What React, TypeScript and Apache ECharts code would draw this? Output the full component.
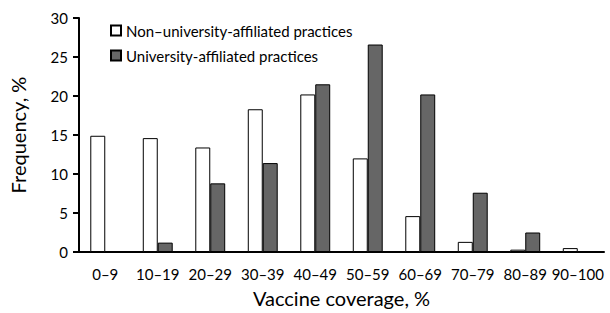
import React, { useEffect, useRef } from "react";
import * as echarts from "echarts";

const categories = ["0–9", "10–19", "20–29", "30–39", "40–49", "50–59", "60–69", "70–79", "80–89", "90–100"];
const nonUniversity = [14.9, 14.6, 13.4, 18.3, 20.2, 12.0, 4.6, 1.3, 0.3, 0.5];
const university = [0, 1.2, 8.8, 11.4, 21.5, 26.6, 20.2, 7.6, 2.5, 0];
const yTicks = [0, 5, 10, 15, 20, 25, 30];

const FONT = "Lato";

export default function App() {
  const ref = useRef<HTMLDivElement>(null);
  useEffect(() => {
    if (!ref.current) return;
    const chart = echarts.init(ref.current, undefined, { renderer: "svg" });
    chart.setOption({
      animation: false,
      textStyle: { fontFamily: FONT, color: "#000" },
      grid: { left: 79, right: 6, top: 18, bottom: 58, containLabel: false },
      legend: {
        orient: "vertical",
        left: 105,
        top: 18,
        icon: "rect",
        itemWidth: 10,
        itemHeight: 10,
        itemGap: 10,
        textStyle: { fontFamily: FONT, fontSize: 15, color: "#000" },
        data: ["Non–university-affiliated practices", "University-affiliated practices"],
      },
      xAxis: {
        type: "category",
        data: categories,
        name: "Vaccine coverage, %",
        nameLocation: "middle",
        nameGap: 36,
        nameTextStyle: { fontFamily: FONT, fontSize: 20, color: "#000" },
        axisLine: { lineStyle: { color: "#000", width: 2 } },
        axisTick: { show: false },
        axisLabel: { fontFamily: FONT, fontSize: 15, color: "#000", margin: 14, interval: 0 },
      },
      yAxis: {
        type: "value",
        min: yTicks[0],
        max: yTicks[yTicks.length - 1],
        interval: 5,
        name: "Frequency, %",
        nameLocation: "middle",
        nameGap: 51,
        nameTextStyle: { fontFamily: FONT, fontSize: 20, color: "#000" },
        axisLine: { show: true, lineStyle: { color: "#000", width: 2 } },
        axisTick: { show: true, length: 6, lineStyle: { color: "#000", width: 2 } },
        splitLine: { show: false },
        axisLabel: { fontFamily: FONT, fontSize: 15, color: "#000", margin: 11 },
      },
      series: [
        {
          name: "Non–university-affiliated practices",
          type: "bar",
          data: nonUniversity,
          barGap: "0%",
          barCategoryGap: "43%",
          itemStyle: { color: "#fff", borderColor: "#000", borderWidth: 1 },
        },
        {
          name: "University-affiliated practices",
          type: "bar",
          data: university,
          barGap: "0%",
          barCategoryGap: "43%",
          itemStyle: { color: "#666", borderColor: "#000", borderWidth: 1 },
        },
      ],
    });
    return () => chart.dispose();
  }, []);
  return <div ref={ref} style={{ width: 610, height: 313, position: "absolute", left: 0, top: 0 }} />;
}
